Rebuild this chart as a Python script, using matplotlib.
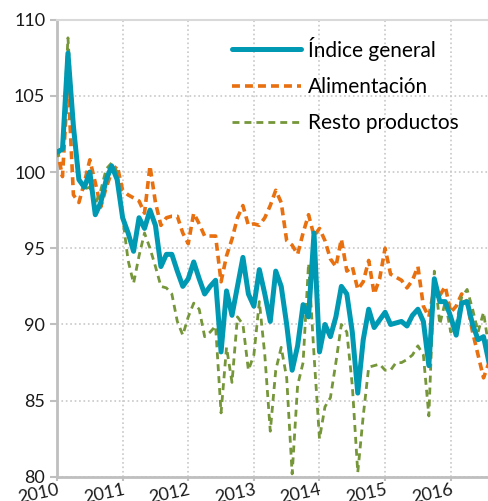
import numpy as np
import matplotlib.pyplot as plt
import matplotlib.transforms as mtransforms

# monthly values, Jan 2010 - Aug 2016
indice_general = [
    101.3, 101.5, 107.8, 103.0, 99.5, 99.0, 100.0, 97.2, 98.0, 99.5,
    100.4, 99.5, 97.0, 96.0, 94.8, 97.0, 96.3, 97.5, 96.5, 93.8,
    94.6, 94.6, 93.5, 92.5, 93.0, 94.1, 93.0, 92.0, 92.5, 92.9,
    88.2, 92.2, 90.6, 92.5, 94.4, 92.0, 91.2, 93.6, 92.0, 90.2,
    93.5, 92.5, 90.0, 87.0, 88.6, 91.3, 90.5, 96.0, 88.2, 90.0,
    89.2, 90.5, 92.5, 92.0, 89.5, 85.5, 89.0, 91.0, 89.8, 90.3,
    90.8, 90.0, 90.1, 90.2, 89.9, 90.6, 91.0, 90.2, 87.3, 93.0,
    91.5, 91.5, 90.5, 89.3, 91.4, 91.5, 90.0, 89.0, 89.2, 87.5,
]
alimentacion = [
    101.5, 99.7, 106.0, 98.5, 98.0, 99.3, 100.8, 99.3, 97.7, 99.0,
    100.0, 100.4, 98.8, 98.5, 98.3, 98.1, 97.3, 100.4, 98.0, 96.5,
    97.0, 97.1, 97.1, 96.0, 95.3, 97.3, 96.6, 95.8, 95.8, 95.8,
    92.8, 94.5, 95.6, 97.0, 97.8, 96.5, 96.6, 96.5, 97.0, 97.8,
    98.8, 98.0, 95.5, 95.2, 94.6, 96.0, 97.2, 95.8, 96.3, 95.5,
    94.3, 93.8, 95.6, 93.5, 93.8, 92.3, 92.8, 94.2, 92.0, 93.0,
    95.0, 93.3, 93.1, 92.9, 92.4, 92.9, 93.8, 91.2, 90.5, 92.4,
    91.9, 92.5, 90.8, 91.2, 92.0, 91.4, 89.5, 88.0, 86.5, 87.5,
]
resto_productos = [
    101.0, 101.7, 108.8, 103.0, 99.5, 98.9, 99.0, 97.9, 98.8, 100.2,
    100.6, 100.0, 97.0, 94.2, 92.7, 94.5, 96.0, 95.0, 93.8, 92.5,
    92.4, 92.0, 90.2, 89.3, 90.5, 91.4, 91.0, 89.2, 89.5, 89.9,
    84.2, 88.5, 86.2, 90.5, 90.0, 87.0, 88.0, 91.5, 88.0, 83.0,
    87.0, 88.5, 86.5, 80.2, 86.0, 87.5, 94.0, 88.0, 82.5, 84.6,
    85.2, 87.5, 90.0, 89.5, 86.0, 80.3, 84.0, 87.2, 87.3, 87.4,
    87.0, 87.0, 87.5, 87.5, 87.7, 88.0, 88.6, 88.0, 84.0, 93.5,
    90.0, 91.5, 89.5, 90.0, 91.8, 92.3, 91.0, 89.5, 90.8, 88.4,
]
years = [2010, 2011, 2012, 2013, 2014, 2015, 2016]
y_ticks = [80, 85, 90, 95, 100, 105, 110]

x = 2010 + np.arange(len(indice_general)) / 12.0

plt.rcParams['font.family'] = ['Lato', 'DejaVu Sans']

fig = plt.figure(figsize=(4.89, 5.01), dpi=100)
ax = fig.add_axes([0.1166, 0.048, 0.8834, 0.913])

ax.plot(x, indice_general, color='#0099B4', lw=3.6, solid_capstyle='round',
        solid_joinstyle='round', label='Índice general', zorder=4)
ax.plot(x, alimentacion, color='#E8700F', lw=2.6, dashes=(2.2, 1.4),
        label='Alimentación', zorder=3)
ax.plot(x, resto_productos, color='#76963A', lw=2.0, dashes=(2.5, 1.8),
        label='Resto productos', zorder=3)

ax.set_xlim(2010, x[-1])
ax.set_ylim(80, 110)
ax.set_xticks(years)
ax.set_xticklabels([str(y) for y in years], rotation=12, ha='right',
                   va='top', rotation_mode='anchor')
shift = mtransforms.ScaledTranslation(14 / 100, 0, fig.dpi_scale_trans)
for lab in ax.get_xticklabels():
    lab.set_transform(lab.get_transform() + shift)
ax.set_yticks(y_ticks)

ax.grid(True, color='#C8C8C8', linestyle=':', lw=1.2)
ax.set_axisbelow(True)
ax.spines['right'].set_visible(False)
ax.spines['top'].set_color('#D9D9D9')
ax.spines['top'].set_linewidth(1.5)
for s in ['left', 'bottom']:
    ax.spines[s].set_color('#BFBFBF')
    ax.spines[s].set_linewidth(2)
ax.tick_params(axis='both', colors='#BFBFBF', length=5, width=1.5,
               labelcolor='#1a1a1a', labelsize=13)
ax.tick_params(axis='x', length=3, pad=0.5)

leg = fig.legend(*ax.get_legend_handles_labels(), loc='upper left',
                 bbox_to_anchor=(213 / 489, 1 - 18 / 501), frameon=False,
                 fontsize=15, handlelength=3.3, labelspacing=0.78,
                 handletextpad=0.35)

fig.savefig('out.png', dpi=100)
